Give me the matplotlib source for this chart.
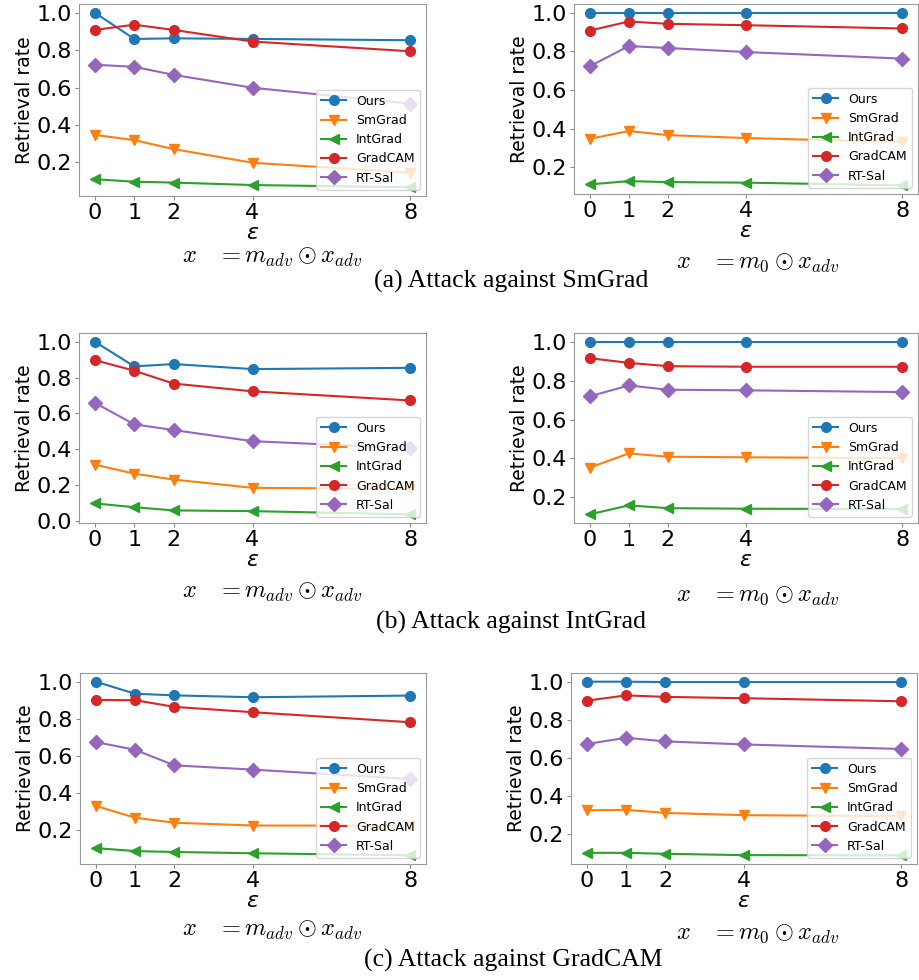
import matplotlib
matplotlib.use("Agg")
import matplotlib.pyplot as plt
from matplotlib.ticker import MultipleLocator

eps = [0, 1, 2, 4, 8]
methods = ["Ours", "SmGrad", "IntGrad", "GradCAM", "RT-Sal"]

# (a) Attack against SmGrad
a_adv_ours = [1.0, 0.860, 0.863, 0.860, 0.853]
a_adv_smgrad = [0.347, 0.319, 0.271, 0.198, 0.145]
a_adv_intgrad = [0.110, 0.097, 0.092, 0.079, 0.067]
a_adv_gradcam = [0.908, 0.936, 0.908, 0.846, 0.794]
a_adv_rtsal = [0.722, 0.711, 0.668, 0.599, 0.514]

a_m0_ours = [1.0, 1.0, 1.0, 1.0, 1.0]
a_m0_smgrad = [0.347, 0.387, 0.366, 0.351, 0.330]
a_m0_intgrad = [0.111, 0.128, 0.123, 0.120, 0.106]
a_m0_gradcam = [0.907, 0.954, 0.942, 0.935, 0.918]
a_m0_rtsal = [0.722, 0.827, 0.817, 0.796, 0.762]

# (b) Attack against IntGrad
b_adv_ours = [1.0, 0.862, 0.875, 0.847, 0.854]
b_adv_smgrad = [0.314, 0.264, 0.231, 0.185, 0.179]
b_adv_intgrad = [0.098, 0.077, 0.059, 0.055, 0.037]
b_adv_gradcam = [0.897, 0.838, 0.766, 0.723, 0.672]
b_adv_rtsal = [0.659, 0.539, 0.507, 0.445, 0.406]

b_m0_ours = [1.0, 1.0, 1.0, 1.0, 1.0]
b_m0_smgrad = [0.353, 0.426, 0.409, 0.406, 0.402]
b_m0_intgrad = [0.113, 0.159, 0.145, 0.142, 0.140]
b_m0_gradcam = [0.915, 0.891, 0.874, 0.871, 0.871]
b_m0_rtsal = [0.719, 0.775, 0.753, 0.750, 0.741]

# (c) Attack against GradCAM
c_adv_ours = [1.0, 0.935, 0.926, 0.916, 0.925]
c_adv_smgrad = [0.329, 0.265, 0.238, 0.223, 0.222]
c_adv_intgrad = [0.101, 0.085, 0.080, 0.073, 0.062]
c_adv_gradcam = [0.901, 0.900, 0.864, 0.835, 0.781]
c_adv_rtsal = [0.674, 0.632, 0.548, 0.525, 0.474]

c_m0_ours = [1.0, 1.0, 0.998, 0.998, 0.998]
c_m0_smgrad = [0.324, 0.326, 0.310, 0.298, 0.293]
c_m0_intgrad = [0.100, 0.100, 0.095, 0.088, 0.087]
c_m0_gradcam = [0.900, 0.928, 0.920, 0.913, 0.897]
c_m0_rtsal = [0.672, 0.705, 0.686, 0.670, 0.646]

captions = ["(a) Attack against SmGrad", "(b) Attack against IntGrad",
            "(c) Attack against GradCAM"]
xlab_adv = r"$x\ \ \ = m_{adv} \odot x_{adv}$"
xlab_m0 = r"$x\ \ \ = m_0 \odot x_{adv}$"

panels = [
    [[a_adv_ours, a_adv_smgrad, a_adv_intgrad, a_adv_gradcam, a_adv_rtsal],
     [a_m0_ours, a_m0_smgrad, a_m0_intgrad, a_m0_gradcam, a_m0_rtsal]],
    [[b_adv_ours, b_adv_smgrad, b_adv_intgrad, b_adv_gradcam, b_adv_rtsal],
     [b_m0_ours, b_m0_smgrad, b_m0_intgrad, b_m0_gradcam, b_m0_rtsal]],
    [[c_adv_ours, c_adv_smgrad, c_adv_intgrad, c_adv_gradcam, c_adv_rtsal],
     [c_m0_ours, c_m0_smgrad, c_m0_intgrad, c_m0_gradcam, c_m0_rtsal]],
]

colors = ["#1f77b4", "#ff7f0e", "#2ca02c", "#d62728", "#9467bd"]
markers = ["o", "v", "<", "o", "D"]

W, H = 919, 980
fig = plt.figure(figsize=(W / 100, H / 100), dpi=100)

# axes boxes in pixels: (left, top, right, bottom)
boxes = [
    [(79, 4, 426, 196), (574, 4, 918, 194)],
    [(79, 333, 426, 523), (574, 333, 918, 523)],
    [(80, 673, 426, 864), (571, 673, 917, 864)],
]
math_pos = [
    [(272, 257), (758, 262)],
    [(272, 592), (758, 595)],
    [(272, 930), (758, 933)],
]
cap_pos = [(511, 281), (511, 622), (513, 960)]

for r in range(3):
    for c in range(2):
        l, t, rr, b = boxes[r][c]
        ax = fig.add_axes([l / W, 1 - b / H, (rr - l) / W, (b - t) / H])
        for k, name in enumerate(methods):
            ax.plot(eps, panels[r][c][k], color=colors[k], marker=markers[k],
                    markersize=7, linewidth=1.5, label=name)
        ax.set_xticks(eps)
        ax.yaxis.set_major_locator(MultipleLocator(0.2))
        ax.tick_params(axis="both", labelsize=16, colors="0.55",
                       labelcolor="black", length=3, pad=2)
        for s in ax.spines.values():
            s.set_color("0.6")
        ax.set_ylabel("Retrieval rate", fontsize=13.5, labelpad=2)
        ax.set_xlabel(r"$\varepsilon$", fontsize=16, labelpad=0)
        ax.legend(loc="lower right", fontsize=9)
        mx, my = math_pos[r][c]
        fig.text(mx / W, 1 - my / H, xlab_adv if c == 0 else xlab_m0,
                 fontsize=17.5, ha="center", va="center", math_fontfamily="cm")
    cx, cy = cap_pos[r]
    fig.text(cx / W, 1 - cy / H, captions[r], fontsize=18.5,
             family="Liberation Serif", ha="center", va="center")

fig.savefig("out.png", dpi=100)
